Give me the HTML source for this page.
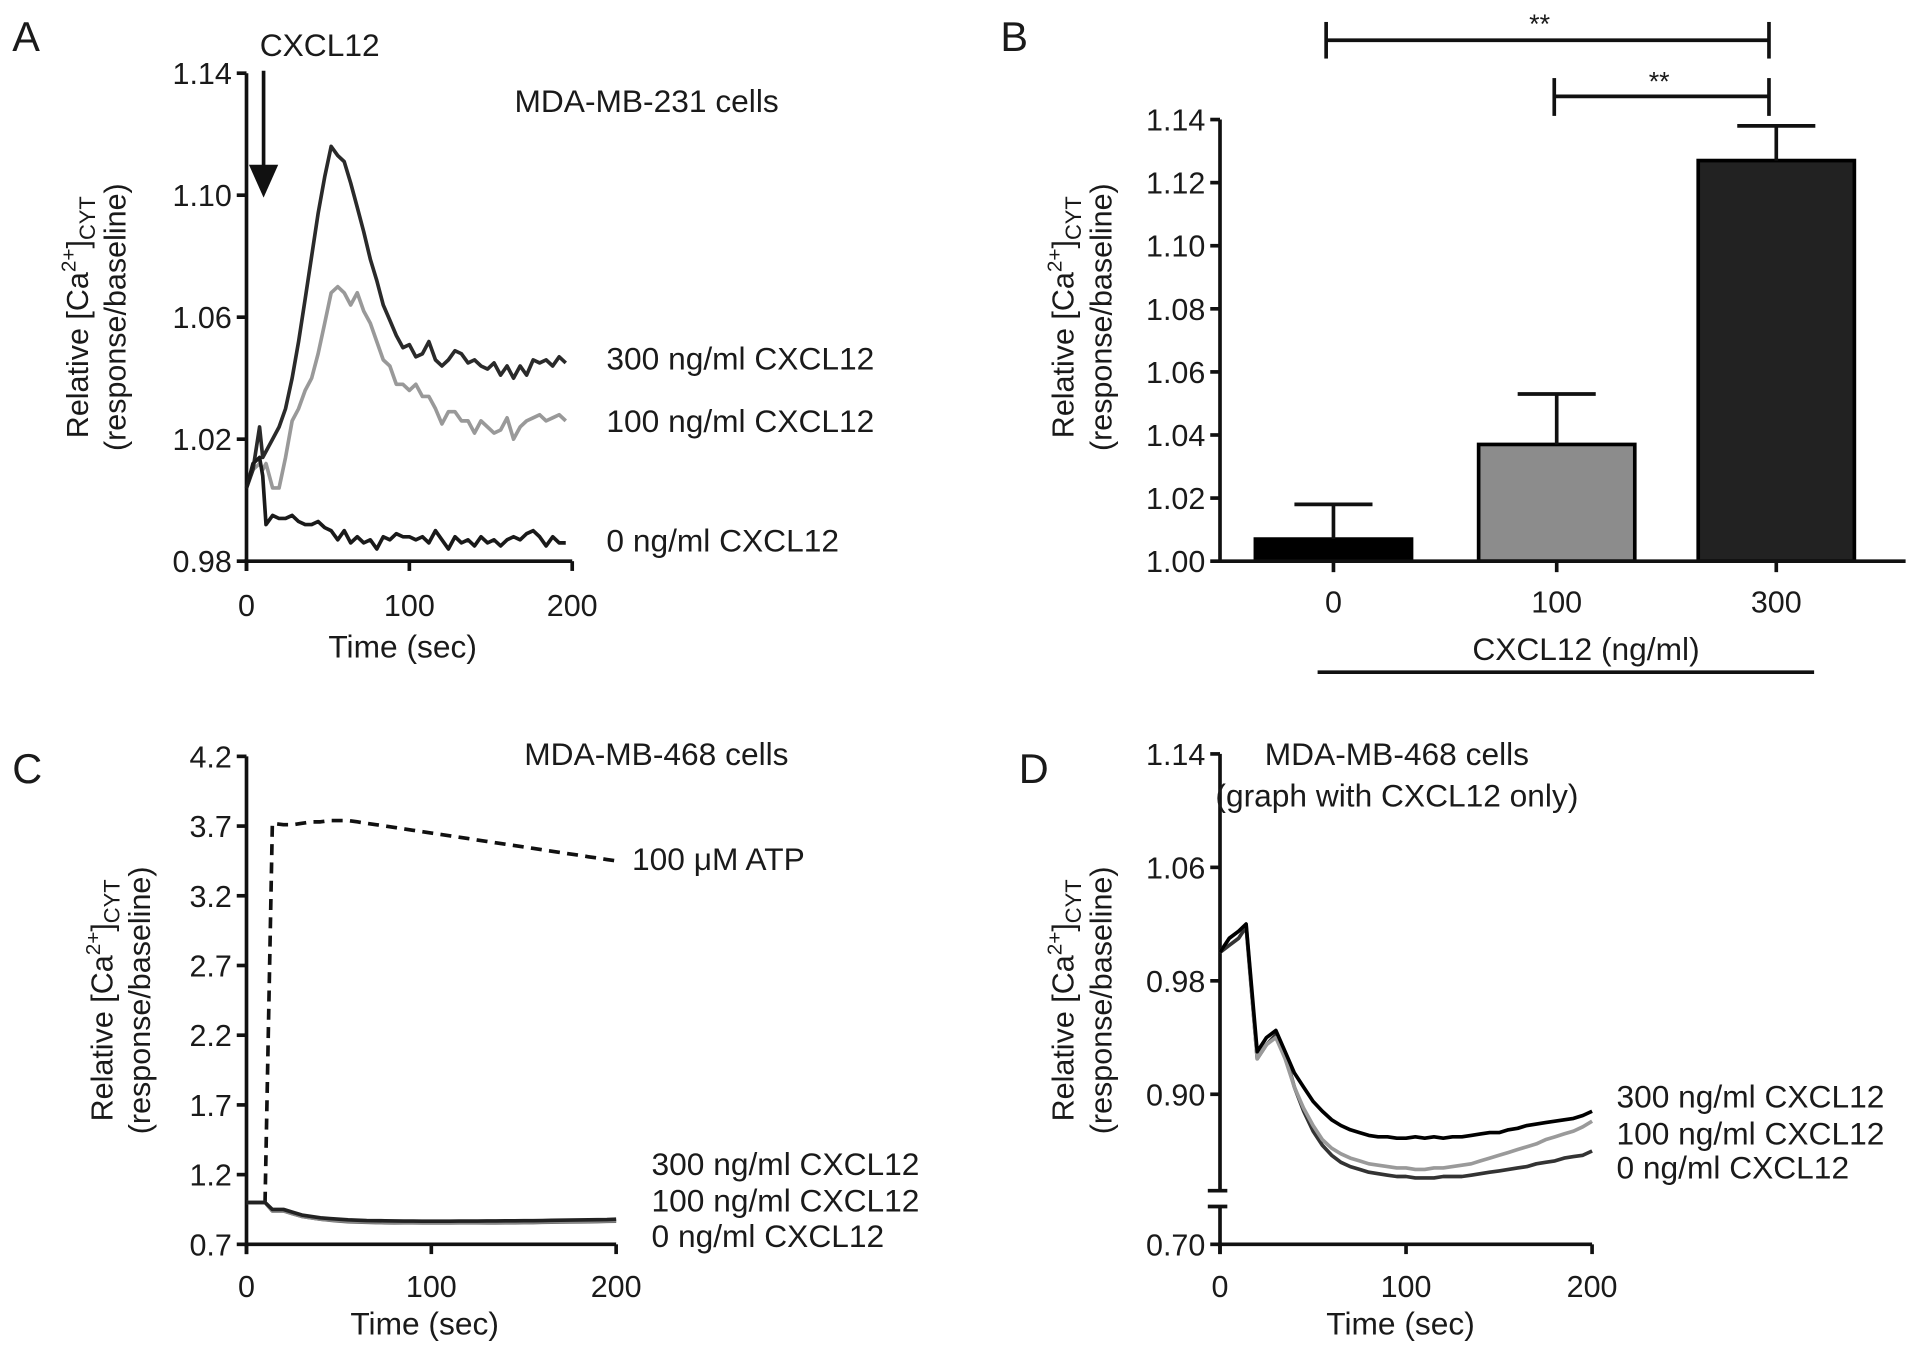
<!DOCTYPE html>
<html><head><meta charset="utf-8">
<style>
html,body{margin:0;padding:0;background:#fff;}
svg{display:block;}
text{font-family:"Liberation Sans",sans-serif;fill:#1a1a1a;}
</style></head>
<body>
<svg id="fig" width="1913" height="1359" viewBox="0 0 1568 1114" xmlns="http://www.w3.org/2000/svg">
</svg>
<script>
// ---------- Panel A data ----------
const tA = [0,4,8,10,12,16,20,24,28,32,36,40,44,48,52,56,60,64,68,72,76,80,84,88,92,96,100,104,108,112,116,120,124,128,132,136,140,144,148,152,156,160,164,168,172,176,180,184,188,192,196];
const a300 = [1.004,1.010,1.024,1.014,1.016,1.020,1.024,1.030,1.040,1.052,1.066,1.080,1.094,1.106,1.116,1.113,1.111,1.104,1.096,1.088,1.079,1.072,1.064,1.059,1.054,1.050,1.051,1.047,1.048,1.052,1.046,1.044,1.046,1.049,1.048,1.045,1.046,1.044,1.043,1.045,1.041,1.044,1.040,1.044,1.041,1.046,1.045,1.046,1.044,1.047,1.045];
const a100 = [1.004,1.010,1.012,1.010,1.012,1.004,1.004,1.014,1.026,1.030,1.036,1.040,1.048,1.058,1.068,1.070,1.068,1.064,1.068,1.062,1.058,1.052,1.046,1.044,1.038,1.038,1.036,1.038,1.034,1.034,1.030,1.025,1.029,1.029,1.026,1.026,1.022,1.026,1.024,1.022,1.023,1.027,1.020,1.024,1.026,1.027,1.028,1.026,1.027,1.028,1.026];
const a0 = [1.004,1.012,1.014,1.008,0.992,0.995,0.994,0.994,0.995,0.993,0.992,0.992,0.993,0.991,0.990,0.987,0.990,0.986,0.988,0.986,0.987,0.984,0.988,0.987,0.989,0.988,0.988,0.987,0.988,0.986,0.990,0.987,0.984,0.988,0.986,0.987,0.985,0.988,0.986,0.987,0.985,0.987,0.988,0.987,0.989,0.990,0.988,0.985,0.988,0.986,0.986];
const ticksA = [0.98,1.02,1.06,1.10,1.14];
const xTicks = [0,100,200];
// ---------- Panel B data ----------
const catsB = ["0","100","300"];
const meansB = [1.007,1.037,1.127];
const errB = [0.011,0.016,0.011];
const ticksB = [1.00,1.02,1.04,1.06,1.08,1.10,1.12,1.14];
// ---------- Panel C data ----------
const tCD = [0,5,10,14,20,25,30,35,40,45,50,55,60,65,70,75,80,85,90,95,100,105,110,115,120,125,130,135,140,145,150,155,160,165,170,175,180,185,190,195,200];
const cATP = [1.0,1.0,1.0,3.72,3.71,3.71,3.72,3.73,3.73,3.74,3.74,3.74,3.73,3.72,3.71,3.70,3.69,3.68,3.67,3.66,3.65,3.64,3.63,3.62,3.61,3.60,3.59,3.58,3.57,3.56,3.55,3.54,3.53,3.52,3.51,3.50,3.49,3.48,3.47,3.46,3.45];
const c300 = [1.0,1.0,1.0,0.95,0.95,0.93,0.91,0.90,0.89,0.885,0.88,0.876,0.873,0.871,0.870,0.869,0.868,0.867,0.867,0.866,0.866,0.866,0.866,0.867,0.867,0.867,0.868,0.868,0.869,0.869,0.870,0.870,0.871,0.872,0.873,0.874,0.875,0.876,0.877,0.878,0.880];
const c100 = [1.0,1.0,1.0,0.94,0.94,0.92,0.90,0.89,0.88,0.875,0.870,0.866,0.863,0.861,0.860,0.859,0.858,0.857,0.857,0.856,0.856,0.856,0.856,0.857,0.857,0.857,0.858,0.858,0.859,0.859,0.860,0.860,0.861,0.862,0.863,0.864,0.865,0.866,0.867,0.868,0.870];
const c0 = [1.0,1.0,1.0,0.94,0.94,0.92,0.90,0.89,0.88,0.873,0.867,0.863,0.860,0.858,0.857,0.856,0.855,0.854,0.854,0.853,0.853,0.853,0.853,0.854,0.854,0.854,0.855,0.855,0.856,0.856,0.857,0.857,0.858,0.859,0.860,0.861,0.862,0.863,0.864,0.865,0.866];
const ticksC = [0.7,1.2,1.7,2.2,2.7,3.2,3.7,4.2];
// ---------- Panel D data ----------
const d300 = [1.00,1.01,1.015,1.02,0.93,0.94,0.945,0.93,0.915,0.905,0.895,0.888,0.882,0.878,0.875,0.873,0.871,0.870,0.870,0.869,0.869,0.870,0.869,0.870,0.869,0.870,0.870,0.871,0.872,0.873,0.873,0.875,0.876,0.878,0.879,0.880,0.881,0.882,0.883,0.885,0.888];
const d100 = [1.00,1.01,1.015,1.02,0.925,0.935,0.94,0.925,0.905,0.89,0.878,0.868,0.862,0.858,0.855,0.853,0.851,0.850,0.849,0.848,0.848,0.847,0.847,0.848,0.848,0.849,0.850,0.851,0.853,0.855,0.857,0.859,0.861,0.863,0.865,0.868,0.870,0.872,0.874,0.877,0.881];
const d0 = [1.00,1.005,1.01,1.018,0.925,0.935,0.942,0.928,0.905,0.888,0.874,0.864,0.857,0.852,0.849,0.847,0.845,0.844,0.843,0.842,0.842,0.841,0.841,0.841,0.842,0.842,0.842,0.843,0.844,0.845,0.846,0.847,0.848,0.849,0.851,0.852,0.853,0.855,0.856,0.857,0.860];
const ticksD = [0.90,0.98,1.06,1.14];

const svg = document.getElementById('fig');
const NS = 'http://www.w3.org/2000/svg';
const FS = 26;
function mk(tag, attrs, parent){
  const e = document.createElementNS(NS, tag);
  for (const k in attrs) e.setAttribute(k, attrs[k]);
  (parent||svg).appendChild(e);
  return e;
}
function txt(s, x, y, size, anchor, parent){
  const t = mk('text', {x:x, y:y, 'font-size':size, 'text-anchor':anchor||'start'}, parent);
  t.textContent = s;
  return t;
}
function line(x1,y1,x2,y2,w,parent){ return mk('line',{x1:x1,y1:y1,x2:x2,y2:y2,stroke:'#111','stroke-width':w||3},parent); }
function ylabel(cx, cy, parent){
  const g = mk('g', {transform:'translate('+cx+','+cy+') rotate(-90)'}, parent);
  
  
  const t1 = mk('text', {x:0, y:0, 'font-size':25, 'text-anchor':'middle'}, g);
  t1.innerHTML = 'Relative [Ca<tspan font-size="17" dy="-10">2+</tspan><tspan dy="10">]</tspan><tspan font-size="18" dy="6">CYT</tspan>';
  const t2 = mk('text', {x:0, y:31, 'font-size':25, 'text-anchor':'middle'}, g);
  t2.textContent = '(response/baseline)';
}
function series(xs, ys, sx, sy, color, name, parent, dash){
  const pts = xs.map((t,i)=> sx(t).toFixed(1)+','+sy(ys[i]).toFixed(1)).join(' ');
  const p = mk('polyline', {points:pts, fill:'none', stroke:color, 'stroke-width':3, 'stroke-linejoin':'round'}, parent);
  if (dash) p.setAttribute('stroke-dasharray', dash);
  
  
  return p;
}

// ===== Panel A =====
(function(){
  const g = mk('g',{});
  
  
  const x0=202,x1=469,yTop=60,yBot=460;
  const sx = t => x0 + (t/200)*(x1-x0);
  const sy = v => yBot - (v-0.98)/(0.16)*(yBot-yTop);
  txt('A', 10, 42, 34, 'start', g);
  line(x0, yTop, x0, yBot+8, 3, g);
  line(x0-2, yBot, x1, yBot, 3, g);
  ticksA.forEach(v=>{ line(x0-8, sy(v), x0, sy(v), 3, g); txt(v.toFixed(2), x0-12, sy(v)+9, 25, 'end', g); });
  xTicks.forEach(v=>{ line(sx(v), yBot, sx(v), yBot+8, 3, g); txt(String(v), sx(v), yBot+45, 25, 'middle', g); });
  txt('Time (sec)', 330, 539, FS, 'middle', g);
  ylabel(72, 260, g);
  series(tA, a100, sx, sy, '#999', 'series-a-100', g);
  series(tA, a300, sx, sy, '#2a2a2a', 'series-a-300', g);
  series(tA, a0, sx, sy, '#1a1a1a', 'series-a-0', g);
  line(216, 58, 216, 140, 3, g);
  mk('polygon',{points:'204,135 228,135 216,162', fill:'#111'}, g);
  txt('CXCL12', 262, 46, FS, 'middle', g);
  txt('MDA-MB-231 cells', 530, 92, FS, 'middle', g);
  txt('300 ng/ml CXCL12', 497, 303, FS, 'start', g);
  txt('100 ng/ml CXCL12', 497, 354, FS, 'start', g);
  txt('0 ng/ml CXCL12', 497, 452, FS, 'start', g);
})();

// ===== Panel B =====
(function(){
  const g = mk('g',{});
  
  
  const x0=1000,x1=1562,yTop=98,yBot=460;
  const sy = v => yBot - (v-1.00)/(0.14)*(yBot-yTop);
  const centers = [1093,1276,1456];
  const bw = 128;
  const fills = ['#000','#8c8c8c','#222'];
  txt('B', 820, 42, 34, 'start', g);
  catsB.forEach((c,i)=>{
    const cx = centers[i];
    const top = sy(meansB[i]);
    const r = mk('rect',{x:cx-bw/2, y:top, width:bw, height:yBot-top, fill:fills[i], stroke:'#000','stroke-width':3}, g);
    
    
    const et = sy(meansB[i]+errB[i]);
    line(cx, top, cx, et, 3, g);
    line(cx-32, et, cx+32, et, 3, g);
    line(cx, yBot, cx, yBot+9, 3, g);
    txt(c, cx, yBot+42, 25, 'middle', g);
  });
  line(x0, yTop, x0, yBot, 3, g);
  line(x0, yBot, x1, yBot, 3, g);
  ticksB.forEach(v=>{ line(x0-8, sy(v), x0, sy(v), 3, g); txt(v.toFixed(2), x0-12, sy(v)+9, 25, 'end', g); });
  ylabel(880, 260, g);
  txt('CXCL12 (ng/ml)', 1300, 541, FS, 'middle', g);
  line(1080, 551, 1487, 551, 3, g);
  line(1087, 33, 1450, 33, 3, g); line(1087, 18, 1087, 48, 3, g); line(1450, 18, 1450, 48, 3, g);
  txt('**', 1262, 27, 22, 'middle', g);
  line(1274, 79, 1450, 79, 3, g); line(1274, 64, 1274, 95, 3, g); line(1450, 64, 1450, 95, 3, g);
  txt('**', 1360, 74, 22, 'middle', g);
})();

// ===== Panel C =====
(function(){
  const g = mk('g',{});
  
  
  const x0=202,x1=505,yTop=620,yBot=1020;
  const sx = t => x0 + (t/200)*(x1-x0);
  const sy = v => yBot - (v-0.7)/(3.5)*(yBot-yTop);
  txt('C', 10, 642, 34, 'start', g);
  line(x0, yTop, x0, yBot+8, 3, g);
  line(x0-2, yBot, x1, yBot, 3, g);
  ticksC.forEach(v=>{ line(x0-8, sy(v), x0, sy(v), 3, g); txt(v.toFixed(1), x0-12, sy(v)+9, 25, 'end', g); });
  xTicks.forEach(v=>{ line(sx(v), yBot, sx(v), yBot+8, 3, g); txt(String(v), sx(v), yBot+43, 25, 'middle', g); });
  txt('Time (sec)', 348, 1094, FS, 'middle', g);
  ylabel(92, 820, g);
  series(tCD, cATP, sx, sy, '#111', 'series-c-atp', g, '9,6');
  series(tCD, c0, sx, sy, '#555', 'series-c-0', g);
  series(tCD, c100, sx, sy, '#888', 'series-c-100', g);
  series(tCD, c300, sx, sy, '#222', 'series-c-300', g);
  txt('MDA-MB-468 cells', 538, 627, FS, 'middle', g);
  txt('100 \u03bcM ATP', 518, 713, FS, 'start', g);
  txt('300 ng/ml CXCL12', 534, 963, FS, 'start', g);
  txt('100 ng/ml CXCL12', 534, 993, FS, 'start', g);
  txt('0 ng/ml CXCL12', 534, 1022, FS, 'start', g);
})();

// ===== Panel D =====
(function(){
  const g = mk('g',{});
  
  
  const x0=1000,x1=1305,yTop=618,yBot=1020;
  const sx = t => x0 + (t/200)*(x1-x0);
  const sy = v => yTop + (1.14-v)*1162.5;
  txt('D', 835, 642, 34, 'start', g);
  line(x0, yTop, x0, 976, 3, g);
  line(x0, 989, x0, yBot+8, 3, g);
  line(x0-10, 976, x0+6, 976, 3, g);
  line(x0-10, 989, x0+6, 989, 3, g);
  line(x0-2, yBot, x1, yBot, 3, g);
  ticksD.forEach(v=>{ line(x0-8, sy(v), x0, sy(v), 3, g); txt(v.toFixed(2), x0-12, sy(v)+9, 25, 'end', g); });
  line(x0-8, yBot, x0, yBot, 3, g); txt('0.70', x0-12, yBot+9, 25, 'end', g);
  xTicks.forEach(v=>{ line(sx(v), yBot, sx(v), yBot+8, 3, g); txt(String(v), sx(v), yBot+43, 25, 'middle', g); });
  txt('Time (sec)', 1148, 1094, FS, 'middle', g);
  ylabel(880, 820, g);
  series(tCD, d0, sx, sy, '#333', 'series-d-0', g);
  series(tCD, d100, sx, sy, '#9a9a9a', 'series-d-100', g);
  series(tCD, d300, sx, sy, '#000', 'series-d-300', g);
  txt('MDA-MB-468 cells', 1145, 627, FS, 'middle', g);
  txt('(graph with CXCL12 only)', 1145, 661, FS, 'middle', g);
  txt('300 ng/ml CXCL12', 1325, 908, FS, 'start', g);
  txt('100 ng/ml CXCL12', 1325, 938, FS, 'start', g);
  txt('0 ng/ml CXCL12', 1325, 966, FS, 'start', g);
})();
</script>
</body></html>
